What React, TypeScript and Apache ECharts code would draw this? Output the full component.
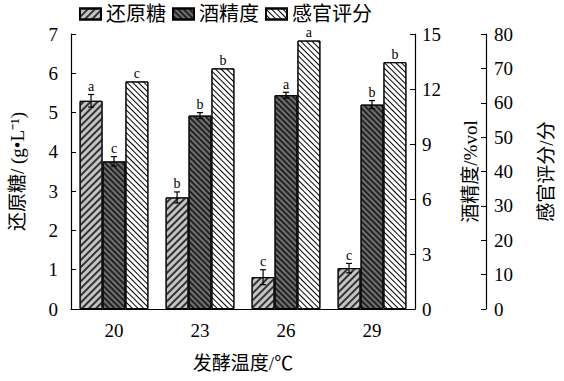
import React, { useEffect, useRef } from "react";
import * as echarts from "echarts";

const categories = ["20", "23", "26", "29"];
const seriesNames = ["还原糖", "酒精度", "感官评分"];
const sugar = [5.3, 2.84, 0.81, 1.04];
const sugarErr = [0.16, 0.14, 0.19, 0.12];
const sugarLetters = ["a", "b", "c", "c"];
const alcohol = [8.05, 10.55, 11.66, 11.15];
const alcoholErr = [0.26, 0.16, 0.16, 0.22];
const alcoholLetters = ["c", "b", "a", "b"];
const sensory = [66.2, 70.0, 78.1, 71.8];
const sensoryErr = [0, 0, 0, 0];
const sensoryLetters = ["c", "b", "a", "b"];
const axisMax = [7, 15, 80];

const serif = "Liberation Serif, Times New Roman, Noto Sans CJK SC, serif";
const W = 564;
const H = 381;
const GRID = { left: 71, right: 139, top: 34, bottom: 72 };

export default function App() {
  const ref = useRef<HTMLDivElement>(null);
  useEffect(() => {
    document.body.style.margin = "0";
    const chart = echarts.init(ref.current!, undefined, { renderer: "svg" });
    const plotH = H - GRID.top - GRID.bottom;

    const makeErr = (vals: number[], errs: number[], axisIndex: number, slot: number) => ({
      type: "custom",
      yAxisIndex: axisIndex,
      z: 10,
      silent: true,
      itemStyle: { color: "#000" },
      data: vals.map((v, i) => [i, v, errs[i]]),
      renderItem: (params: any, api: any) => {
        const i = api.value(0);
        const v = api.value(1);
        const e = api.value(2);
        const w = api.size([1, 0])[0];
        const bw = (w * 0.8) / 3;
        const c = api.coord([i, v]);
        const x = c[0] + (slot - 1) * bw;
        const top = api.coord([i, v + e])[1];
        const bot = api.coord([i, v - e])[1];
        const ls = { stroke: "#000", lineWidth: 1.2 };
        if (!(e > 0)) return { type: "group", children: [] };
        return {
          type: "group",
          children: [
            { type: "line", shape: { x1: x, y1: top, x2: x, y2: bot }, style: ls },
            { type: "line", shape: { x1: x - 3, y1: top, x2: x + 3, y2: top }, style: ls },
            { type: "line", shape: { x1: x - 3, y1: bot, x2: x + 3, y2: bot }, style: ls },
          ],
        };
      },
    });

    const barData = (vals: number[], errs: number[], axisIndex: number) =>
      vals.map((v, i) => ({
        value: v,
        label: { distance: 1 + (errs[i] * plotH) / axisMax[axisIndex] },
      }));

    const barLabel = (letters: string[]) => ({
      show: true,
      position: "top",
      color: "#000",
      fontSize: 14,
      fontFamily: serif,
      formatter: (p: any) => letters[p.dataIndex],
    });

    const option: any = {
      animation: false,
      backgroundColor: "#fff",
      legend: {
        top: -1,
        left: 74,
        icon: "rect",
        itemWidth: 21,
        itemHeight: 11,
        itemGap: 6,
        textStyle: { fontSize: 20, color: "#000", fontFamily: serif },
        data: seriesNames,
      },
      grid: GRID,
      xAxis: {
        type: "category",
        data: categories,
        axisLine: { lineStyle: { color: "#000", width: 1.2 } },
        axisTick: { inside: true, alignWithLabel: true, length: 5, lineStyle: { color: "#000" } },
        axisLabel: { color: "#000", fontSize: 19, fontFamily: serif, margin: 12 },
        name: "发酵温度/℃",
        nameLocation: "middle",
        nameGap: 45,
        nameTextStyle: { color: "#000", fontSize: 19, fontFamily: serif },
      },
      yAxis: [
        {
          type: "value",
          min: 0,
          max: axisMax[0],
          interval: 1,
          position: "left",
          splitLine: { show: false },
          axisLine: { show: true, lineStyle: { color: "#000", width: 1.2 } },
          axisTick: { show: true, inside: true, length: 5, lineStyle: { color: "#000" } },
          axisLabel: { color: "#000", fontSize: 19, fontFamily: serif, margin: 13 },
          name: "还原糖/ (g•L⁻¹)",
          nameLocation: "middle",
          nameGap: 44,
          nameRotate: 90,
          nameTextStyle: { color: "#000", fontSize: 19, fontFamily: serif },
        },
        {
          type: "value",
          min: 0,
          max: axisMax[1],
          interval: 3,
          position: "right",
          splitLine: { show: false },
          axisLine: { show: true, lineStyle: { color: "#000", width: 1.2 } },
          axisTick: { show: true, inside: true, length: 5, lineStyle: { color: "#000" } },
          axisLabel: { color: "#000", fontSize: 19, fontFamily: serif, margin: 7 },
          name: "酒精度/%vol",
          nameLocation: "middle",
          nameGap: 46,
          nameRotate: 90,
          nameTextStyle: { color: "#000", fontSize: 19, fontFamily: serif },
        },
        {
          type: "value",
          min: 0,
          max: axisMax[2],
          interval: 10,
          position: "right",
          offset: 71,
          splitLine: { show: false },
          axisLine: { show: true, lineStyle: { color: "#000", width: 1.2 } },
          axisTick: { show: true, inside: true, length: 5, lineStyle: { color: "#000" } },
          axisLabel: { color: "#000", fontSize: 19, fontFamily: serif, margin: 8 },
          name: "感官评分/分",
          nameLocation: "middle",
          nameGap: 51,
          nameRotate: 90,
          nameTextStyle: { color: "#000", fontSize: 19, fontFamily: serif },
        },
      ],
      series: [
        {
          name: seriesNames[0],
          type: "bar",
          yAxisIndex: 0,
          data: barData(sugar, sugarErr, 0),
          label: barLabel(sugarLetters),
          barGap: "0%",
          barCategoryGap: "20%",
          itemStyle: {
            color: "#c4c4c4",
            borderColor: "#000",
            borderWidth: 1,
            decal: {
              symbol: "rect",
              symbolSize: 1,
              color: "#333",
              dashArrayX: [1, 0],
              dashArrayY: [1.3, 3],
              rotation: -Math.PI / 4,
            },
          },
        },
        {
          name: seriesNames[1],
          type: "bar",
          yAxisIndex: 1,
          data: barData(alcohol, alcoholErr, 1),
          label: barLabel(alcoholLetters),
          itemStyle: {
            color: "#707070",
            borderColor: "#000",
            borderWidth: 1,
            decal: {
              symbol: "rect",
              symbolSize: 1,
              color: "#222",
              dashArrayX: [1, 0],
              dashArrayY: [1.3, 2],
              rotation: Math.PI / 4,
            },
          },
        },
        {
          name: seriesNames[2],
          type: "bar",
          yAxisIndex: 2,
          data: barData(sensory, sensoryErr, 2),
          label: barLabel(sensoryLetters),
          itemStyle: {
            color: "#fff",
            borderColor: "#000",
            borderWidth: 1,
            decal: {
              symbol: "rect",
              symbolSize: 1,
              color: "#000",
              dashArrayX: [1, 0],
              dashArrayY: [1, 3],
              rotation: Math.PI / 4,
            },
          },
        },
        makeErr(sugar, sugarErr, 0, 0),
        makeErr(alcohol, alcoholErr, 1, 1),
        makeErr(sensory, sensoryErr, 2, 2),
      ],
    };
    chart.setOption(option);
    return () => chart.dispose();
  }, []);
  return <div ref={ref} style={{ width: W, height: H }} />;
}
